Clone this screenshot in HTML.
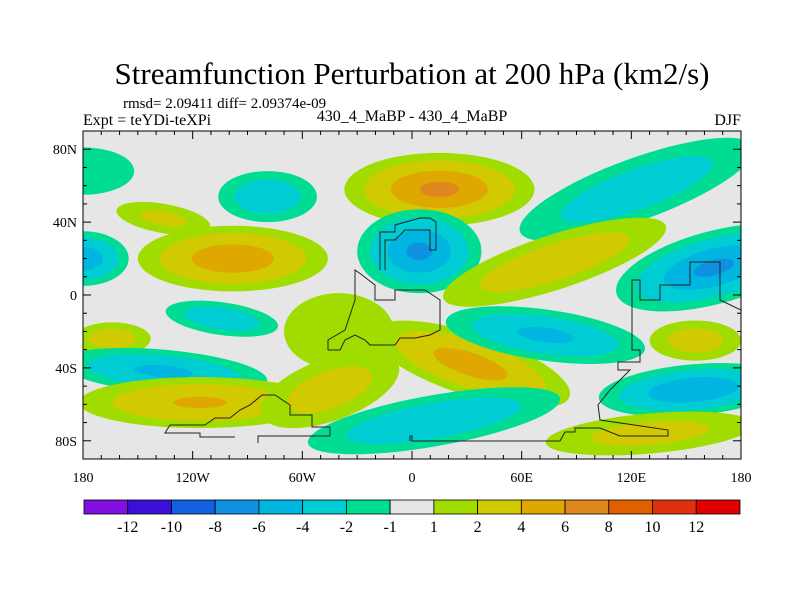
<!DOCTYPE html>
<html><head><meta charset="utf-8"><style>
body{margin:0;background:#fff;}
svg{display:block;font-family:"Liberation Serif",serif;}
</style></head><body>
<svg id="chart" width="800" height="600" viewBox="0 0 800 600" xmlns="http://www.w3.org/2000/svg">
<text x="412" y="84" font-size="31" text-anchor="middle">Streamfunction Perturbation at 200 hPa (km2/s)</text>
<text x="123" y="108" font-size="15">rmsd= 2.09411 diff= 2.09374e-09</text>
<text x="83" y="125" font-size="16">Expt = teYDi-teXPi</text>
<text x="412" y="121" font-size="16" text-anchor="middle">430_4_MaBP - 430_4_MaBP</text>
<text x="741" y="125" font-size="16" text-anchor="end">DJF</text>
<defs><clipPath id="pc"><rect x="83" y="131" width="658" height="328"/></clipPath></defs>
<rect x="83" y="131" width="658" height="328" fill="#e6e6e6"/>
<g id="field" clip-path="url(#pc)"></g>
<g id="coast" clip-path="url(#pc)" fill="none" stroke="#222" stroke-width="1">
<polyline points="258,443 258,436 330,436 330,427 312,427 312,415 290,415 290,405 275,395 262,395 250,405 240,410 230,418 215,418 205,425 170,425 165,433 200,433 200,437 235,437"/>
<polyline points="410,441 410,436 412,436 412,441 560,441 565,432 575,432 575,428 600,428 620,436 668,436 668,430 600,420 598,405 610,390 620,380 630,370 618,370 618,362 640,362 640,350 632,350 632,280 640,280 640,300 660,300 660,285 690,285 690,262 720,262 720,300 741,310"/>
<polyline points="328,350 328,340 345,330 350,315 355,300 355,270 362,275 375,285 375,300 395,300 395,290 425,290 440,300 440,330 430,335 415,338 400,338 395,345 370,345 365,340 355,335 345,340 340,350 328,350"/>
<polyline points="380,270 380,232 395,232 395,225 420,218 430,218 436,222 436,250 430,250 430,230 405,230 395,240 385,240 385,270"/>
</g>
<g id="axes"></g>
<g id="cbar"></g>
</svg>
<script>
// blob data: lon, lat, x-radius (deg), y-radius (deg), tilt (deg), peak value
const blobLon  = [-180,-79,-98,-136,-180,165,15,123,4,78,-104,-164,-136,-116,-40,-45,32,73,155,154,12,130];
const blobLat  = [68,54,20,42,20,15,58,58,24,18,-13,-24,-42,-59,-20,-52,-38,-22,-25,-52,-69,-76];
const blobRx   = [28,27,52,26,25,55,52,68,34,64,31,21,57,66,30,40,57,55,25,52,70,57];
const blobRy   = [13,14,18,8,15,20,20,17,23,15,9,9,12,14,21,17,17,14,11,14,14,11];
const blobTilt = [0,0,0,10,0,-15,0,-20,0,-18,8,0,5,0,0,-20,18,8,0,-5,-10,-5];
const blobPeak = [-1.8,-3.5,5.5,2.5,-5.5,-6.5,6.5,-3.3,-6.5,3.5,-3.5,3,-4.5,4.3,1.8,3,5,-4.5,3,-6,-3.8,2.8];
const cbarLevels = [-12,-10,-8,-6,-4,-2,-1,1,2,4,6,8,10,12];
const cbarColors = ["#8010e0","#3a10d8","#1060e0","#1090e0","#00b6e0","#00ccd4","#00dc94","#e6e6e6","#a0dc00","#d2ca00","#dea800","#e08820","#e06000","#e03010","#e00000"];
const lonTicks = [-180,-120,-60,0,60,120,180];
const lonLabels = ["180","120W","60W","0","60E","120E","180"];
const latTicks = [80,40,0,-40,-80];
const latLabels = ["80N","40N","0","40S","80S"];

const NS="http://www.w3.org/2000/svg";
const X0=83,X1=741,Y0=131,Y1=459;
const xs=lon=>X0+(lon+180)/360*(X1-X0);
const ys=lat=>Y0+(90-lat)/180*(Y1-Y0);
const kx=(X1-X0)/360, ky=(Y1-Y0)/180;
function mk(tag,attrs,parent){const e=document.createElementNS(NS,tag);for(const k in attrs)e.setAttribute(k,attrs[k]);parent.appendChild(e);return e;}
function colorFor(v){
  for(let i=0;i<cbarLevels.length;i++){ if(v<cbarLevels[i]) return cbarColors[i]; }
  return cbarColors[cbarColors.length-1];
}
const field=document.getElementById('field');
blobPeak.forEach((p,i)=>{
  const g=mk('g',{transform:`translate(${xs(blobLon[i])},${ys(blobLat[i])}) rotate(${blobTilt[i]})`},field);
  
  
  const P=Math.abs(p), sgn=p<0?-1:1;
  const th=cbarLevels.filter(l=>l>0&&l<P);
  const L0=Math.log(P);
  th.forEach(t=>{
    const s=L0>0?Math.sqrt(Math.log(P/t)/L0):1;
    const e=mk('ellipse',{cx:0,cy:0,rx:blobRx[i]*kx*s,ry:blobRy[i]*ky*s,fill:colorFor(sgn*(t+0.01))},g);
    
    
  });
});
const ax=document.getElementById('axes');
const fr=mk('rect',{x:X0,y:Y0,width:X1-X0,height:Y1-Y0,fill:'none',stroke:'#000','stroke-width':1},ax);


for(let lon=-180;lon<=180;lon+=10){
  const major=lon%60===0, l=major?8:4, x=xs(lon);
  mk('line',{x1:x,x2:x,y1:Y1,y2:Y1-l,stroke:'#000'},ax);
  mk('line',{x1:x,x2:x,y1:Y0,y2:Y0+l,stroke:'#000'},ax);
}
for(let lat=-90;lat<=90;lat+=10){
  const major=lat%40===0, l=major?8:4, y=ys(lat);
  mk('line',{x1:X0,x2:X0+l,y1:y,y2:y,stroke:'#000'},ax);
  mk('line',{x1:X1,x2:X1-l,y1:y,y2:y,stroke:'#000'},ax);
}
lonTicks.forEach((lon,i)=>{
  const t=mk('text',{x:xs(lon),y:482,'font-size':14,'text-anchor':'middle'},ax);
  t.textContent=lonLabels[i];
  
  
});
latTicks.forEach((lat,i)=>{
  const t=mk('text',{x:77,y:ys(lat)+5,'font-size':14,'text-anchor':'end'},ax);
  t.textContent=latLabels[i];
  
  
});
const cb=document.getElementById('cbar');
const CB0=84,CB1=740,bw=(CB1-CB0)/cbarColors.length;
cbarColors.forEach((c,i)=>{
  const r=mk('rect',{x:CB0+i*bw,y:500,width:bw,height:14,fill:c,stroke:'#000','stroke-width':0.8},cb);
  
  
});
cbarLevels.forEach((v,i)=>{
  const t=mk('text',{x:CB0+(i+1)*bw,y:532,'font-size':16,'text-anchor':'middle'},cb);
  t.textContent=String(v);
  
  
});
</script>
</body></html>
